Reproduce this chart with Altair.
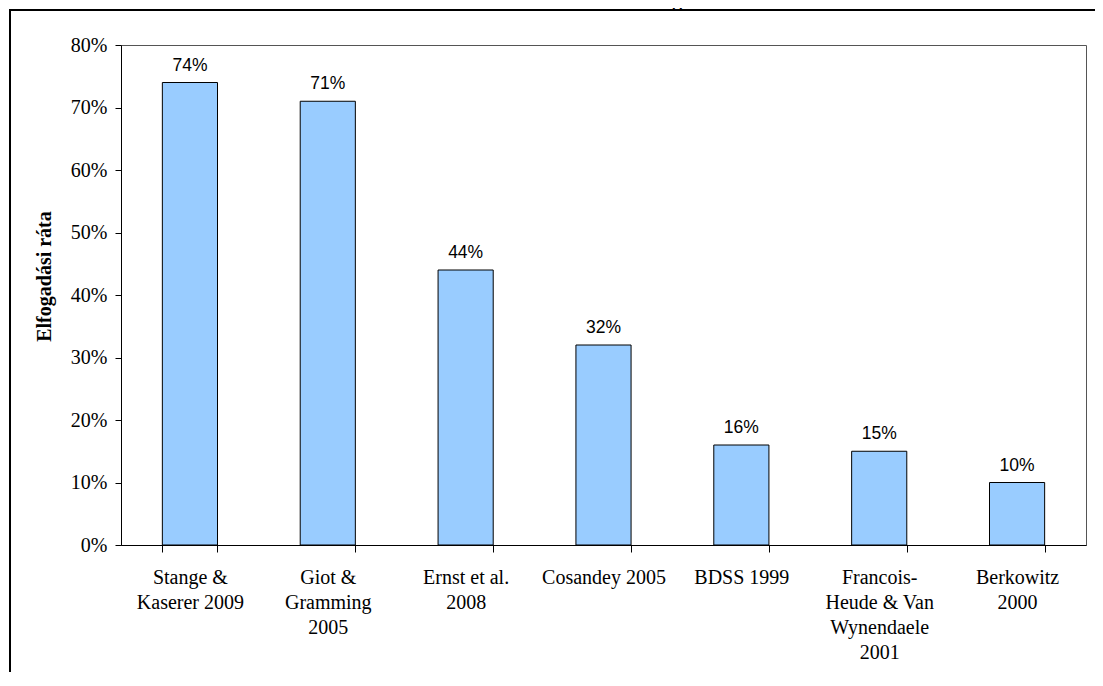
import altair as alt
import pandas as pd

# ---- data ----
categories = [
    "Stange &\nKaserer 2009",
    "Giot &\nGramming\n2005",
    "Ernst et al.\n2008",
    "Cosandey 2005",
    "BDSS 1999",
    "Francois-\nHeude & Van\nWynendaele\n2001",
    "Berkowitz\n2000",
]
rates = [0.74, 0.71, 0.44, 0.32, 0.16, 0.15, 0.10]
y_ticks = [0.0, 0.1, 0.2, 0.3, 0.4, 0.5, 0.6, 0.7, 0.8]
chart_title = "37. ábra: A LAVaR modellek rangsora"
y_title = "Elfogadási ráta"

df = pd.DataFrame({"model": categories, "rate": rates})
one = pd.DataFrame({"k": [0]})

SERIF = "Liberation Serif"
SANS = "Liberation Sans"

x_enc = alt.X(
    "model:N",
    sort=categories,
    title=None,
    scale=alt.Scale(paddingInner=0.6, paddingOuter=0.3),
    axis=alt.Axis(
        labelAngle=0,
        labelExpr="split(datum.label, '\\n')",
        labelLineHeight=25,
        labelOverlap=False,
        labelLimit=0,
        tickBand="extent",
        tickSize=7,
        labelPadding=15,
        labelFont=SERIF,
        labelFontSize=20,
        labelColor="black",
        domainColor="black",
        tickColor="black",
    ),
)

y_enc = alt.Y(
    "rate:Q",
    scale=alt.Scale(domain=[0, 0.8], nice=False),
    axis=alt.Axis(
        values=y_ticks,
        format=".0%",
        grid=False,
        tickSize=6,
        labelPadding=8,
        labelFont=SERIF,
        labelFontSize=20,
        labelColor="black",
        domainColor="black",
        tickColor="black",
        title=y_title,
        titleFont=SERIF,
        titleFontSize=20,
        titleFontWeight="bold",
        titleColor="black",
        titleAngle=-90,
        titleX=-77,
        titleY=231,
        titleAlign="center",
        titleBaseline="middle",
    ),
)

bars = alt.Chart(df).mark_bar(fill="#99CCFF", stroke="black", strokeWidth=1).encode(
    x=x_enc, y=y_enc
)

labels = alt.Chart(df).mark_text(
    dy=-12, baseline="alphabetic", align="center", font=SANS, fontSize=17.5, color="black"
).encode(x=x_enc, y=y_enc, text=alt.Text("rate:Q", format=".0%"))

frame_top = alt.Chart(one).mark_rule(color="black", strokeWidth=2).encode(
    x=alt.value(-111), x2=alt.value(1100), y=alt.value(-35)
)
frame_left = alt.Chart(one).mark_rule(color="black", strokeWidth=2).encode(
    x=alt.value(-111), y=alt.value(-36), y2=alt.value(700)
)

# page title: cut off by the top edge, as in the reference
title_mark = alt.Chart(one).mark_text(
    font=SERIF, fontSize=20, fontWeight="bold", align="center", baseline="alphabetic", color="black"
).encode(x=alt.value(435), y=alt.value(-39), text=alt.value(chart_title))

chart = (
    alt.layer(bars, labels, frame_top, frame_left, title_mark)
    .properties(
        width=965,
        height=500,
        autosize=alt.AutoSizeParams(type="none"),
        padding={"left": 113, "top": 37, "right": 9, "bottom": 127},
        background="white",
    )
    .configure_view(stroke="#555555", strokeWidth=1)
)

chart.save("out.html", embed_options={"renderer": "svg", "actions": False})
